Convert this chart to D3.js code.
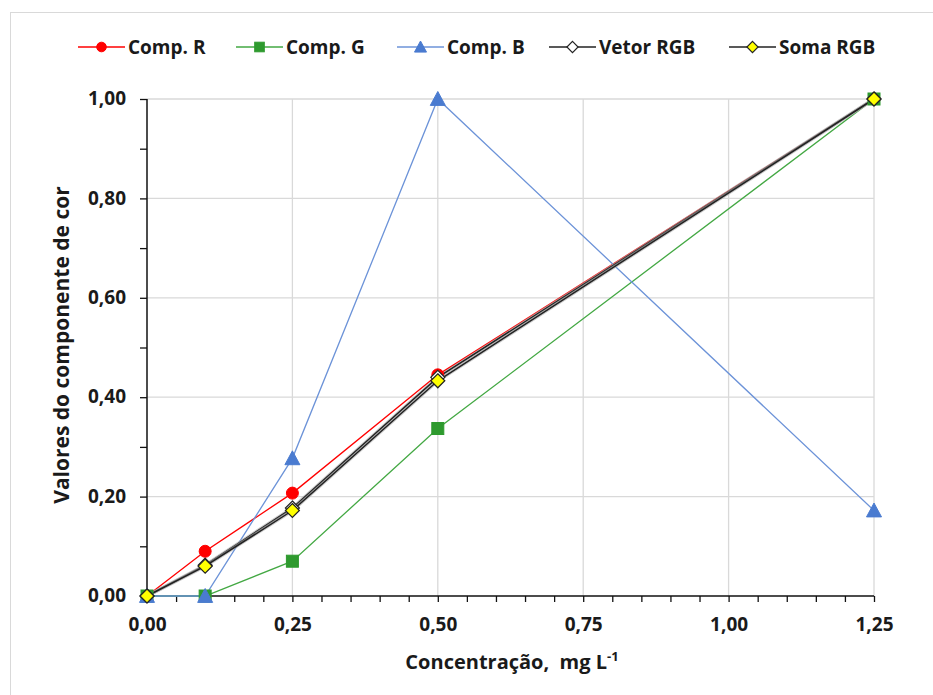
<!DOCTYPE html>
<html><head><meta charset="utf-8">
<script src="https://cdn.jsdelivr.net/npm/d3@7"></script>
<style>
body{margin:0;background:#fff;}
text{font-family:"Open Sans",Lato,sans-serif;font-weight:bold;fill:#1a1a1a;}
</style></head>
<body><svg id="c" width="933" height="695"></svg>
<script>
const concentrations = [0, 0.1, 0.25, 0.5, 1.25];
const compR = [0, 0.09, 0.207, 0.445, 1.0];
const compG = [0, 0, 0.07, 0.337, 1.0];
const compB = [0, 0, 0.277, 1.0, 0.172];
const vetorRGB = [0, 0.062, 0.177, 0.44, 1.0];
const somaRGB = [0, 0.06, 0.172, 0.433, 1.0];
const seriesNames = ["Comp. R", "Comp. G", "Comp. B", "Vetor RGB", "Soma RGB"];
const xTicks = [0, 0.25, 0.5, 0.75, 1.0, 1.25];
const yTicks = [0, 0.2, 0.4, 0.6, 0.8, 1.0];

const series = [
  {name: seriesNames[0], values: compR, color: "#ff0000", shape: "circle", fill: "#ff0000", stroke: "#ff0000"},
  {name: seriesNames[1], values: compG, color: "#43a843", shape: "square", fill: "#2e9a2e", stroke: "#2e9a2e"},
  {name: seriesNames[2], values: compB, color: "#6c93d8", shape: "triangle", fill: "#4a7bd0", stroke: "#4a7bd0"},
  {name: seriesNames[3], values: vetorRGB, color: "#222", shape: "diamond", fill: "#ffffff", stroke: "#222"},
  {name: seriesNames[4], values: somaRGB, color: "#222", shape: "diamond", fill: "#ffff00", stroke: "#222"}
];

const svg = d3.select("#c");
const fmt = d => d3.format(".2f")(d).replace(".", ",");

// outer frame
svg.append("rect").attr("x", 10.5).attr("y", 12.5).attr("width", 940).attr("height", 700)
  .attr("fill", "none").attr("stroke", "#d9d9d9");

const x = d3.scaleLinear().domain([0, 1.25]).range([147, 874]);
const y = d3.scaleLinear().domain([0, 1.0]).range([596, 99]);

// grid
svg.append("g").selectAll("line").data(xTicks.slice(1)).join("line")
  .attr("x1", d => x(d)).attr("x2", d => x(d)).attr("y1", y(0)).attr("y2", y(1))
  .attr("stroke", "#d9d9d9").attr("stroke-width", 1.3);
svg.append("g").selectAll("line").data(yTicks.slice(1)).join("line")
  .attr("x1", x(0)).attr("x2", x(1.25)).attr("y1", d => y(d)).attr("y2", d => y(d))
  .attr("stroke", "#d9d9d9").attr("stroke-width", 1.3);

// axes
const xAxis = d3.axisBottom(x).tickValues(d3.range(0, 1.2501, 0.05)).tickSize(6)
  .tickFormat(d => xTicks.some(t => Math.abs(t - d) < 1e-6) ? fmt(d) : "");
const gx = svg.append("g").attr("transform", `translate(0,${y(0)})`).call(xAxis);
gx.select(".domain").attr("stroke", "#111").attr("stroke-width", 1.5).attr("d", `M${x(0)},0H${x(1.25)}`);
gx.selectAll(".tick line").attr("stroke", "#111").attr("stroke-width", 1.3);
gx.selectAll(".tick text").attr("font-size", 19).attr("dy", "0.35em").attr("y", 28);

const yAxis = d3.axisLeft(y).tickValues(d3.range(0, 1.0001, 0.1)).tickSize(7)
  .tickFormat(d => yTicks.some(t => Math.abs(t - d) < 1e-6) ? fmt(d) : "");
const gy = svg.append("g").attr("transform", `translate(${x(0)},0)`).call(yAxis);
gy.select(".domain").attr("stroke", "#111").attr("stroke-width", 1.5).attr("d", `M0,${y(0)}V${y(1)}`);
gy.selectAll(".tick line").attr("stroke", "#111").attr("stroke-width", 1.3);
gy.selectAll(".tick text").attr("font-size", 19).attr("x", -21).attr("dy", "0.3em");

// axis titles
const xt = svg.append("text").attr("x", 512).attr("y", 669).attr("text-anchor", "middle").attr("font-size", 20);
xt.append("tspan").text("Concentração,\u00a0 mg L");
xt.append("tspan").attr("dy", -8).attr("font-size", 13).text("-1");
svg.append("text").attr("transform", "translate(69,345) rotate(-90)").attr("text-anchor", "middle")
  .attr("font-size", 21).text("Valores do componente de cor");

function drawMarker(g, s, cx, cy, scale) {
  const k = scale || 1;
  if (s.shape === "circle") {
    g.append("circle").attr("cx", cx).attr("cy", cy).attr("r", 6 * k).attr("fill", s.fill).attr("stroke", s.stroke);
  } else if (s.shape === "square") {
    g.append("rect").attr("x", cx - 6 * k).attr("y", cy - 6 * k).attr("width", 12 * k).attr("height", 12 * k)
      .attr("fill", s.fill).attr("stroke", s.stroke);
  } else if (s.shape === "triangle") {
    const h = 7.5 * k;
    g.append("path").attr("d", `M${cx},${cy - h}L${cx + h},${cy + h * 0.85}L${cx - h},${cy + h * 0.85}Z`)
      .attr("fill", s.fill).attr("stroke", s.stroke);
  } else {
    const h = 7 * k;
    g.append("path").attr("d", `M${cx},${cy - h}L${cx + h},${cy}L${cx},${cy + h}L${cx - h},${cy}Z`)
      .attr("fill", s.fill).attr("stroke", s.stroke).attr("stroke-width", 1.2);
  }
}

const line = d3.line().x((d, i) => x(concentrations[i])).y(d => y(d));
const plot = svg.append("g");
series.forEach(s => {
  const isBlack = s.shape === "diamond";
  if (isBlack) {
    plot.append("path").datum(s.values).attr("d", line).attr("fill", "none")
      .attr("stroke", "#aaa").attr("stroke-width", 3.5).attr("opacity", 0.6);
  }
  plot.append("path").datum(s.values).attr("d", line).attr("fill", "none")
    .attr("stroke", s.color).attr("stroke-width", isBlack ? 1.5 : 1.3);
});
series.forEach(s => {
  const g = plot.append("g");
  s.values.forEach((v, i) => drawMarker(g, s, x(concentrations[i]), y(v)));
});

// legend
const legendX = [78, 236, 397, 549, 729];
const lg = svg.append("g");
series.forEach((s, i) => {
  const x0 = legendX[i], ly = 47;
  lg.append("line").attr("x1", x0).attr("x2", x0 + 47).attr("y1", ly).attr("y2", ly)
    .attr("stroke", s.color).attr("stroke-width", 1.5);
  drawMarker(lg, s, x0 + 23.5, ly, 0.8);
  lg.append("text").attr("x", x0 + 50).attr("y", ly).attr("dy", "0.35em").attr("font-size", 19).text(s.name);
});
</script></body></html>
